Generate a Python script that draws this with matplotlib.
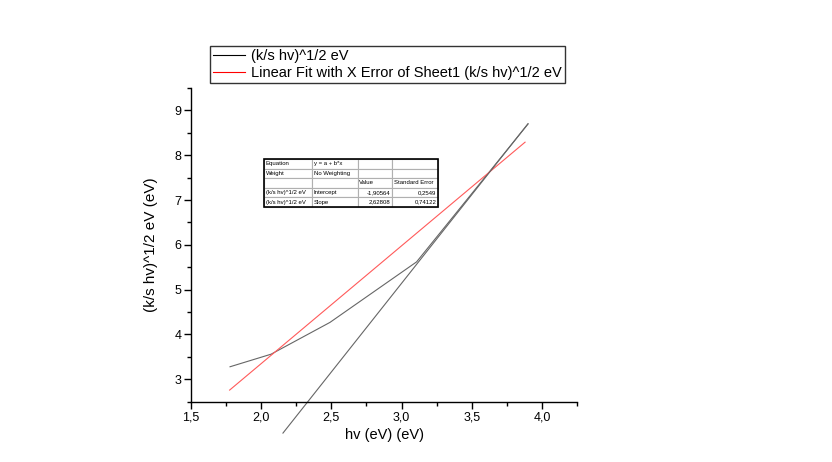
import numpy as np
import matplotlib
matplotlib.use("Agg")
import matplotlib.pyplot as plt
from matplotlib.ticker import MultipleLocator, FuncFormatter
from matplotlib.patches import Rectangle

plt.rcParams['font.family'] = ['Liberation Sans', 'DejaVu Sans']

# measured curve (k/s hv)^1/2 vs hv
hv = [1.778, 2.07, 2.49, 3.107, 3.902]
ks = [3.28, 3.56, 4.27, 5.62, 8.70]

# linear fit with X error, y = a + b*x
fit_a = -1.90564
fit_b = 2.62808
fit_x = [1.775, 3.88]

# tangent drawn by hand on the plot (extends below the axis)
tan_x = [2.155, 3.90]
tan_y = [1.80, 8.70]

table_rows = [
    ["Equation", "y = a + b*x", "", ""],
    ["Weight", "No Weighting", "", ""],
    ["", "", "Value", "Standard Error"],
    ["(k/s hv)^1/2 eV", "Intercept", "-1,90564", "0,2549"],
    ["(k/s hv)^1/2 eV", "Slope", "2,62808", "0,74122"],
]

fig = plt.figure(figsize=(8.32, 4.62), dpi=100)
ax = fig.add_axes([0.2296, 0.1305, 0.4639, 0.679])

line1, = ax.plot(hv, ks, color='#666666', lw=0.8, label="(k/s hv)^1/2 eV")
fx = np.array(fit_x)
line2, = ax.plot(fx, fit_a + fit_b * fx, color='#ff5a5a', lw=0.8,
                 label="Linear Fit with X Error of Sheet1 (k/s hv)^1/2 eV")
ax.plot(tan_x, tan_y, color='#666666', lw=0.8, clip_on=False)

ax.set_xlim(1.5, 4.25)
ax.set_ylim(2.5, 9.5)
ax.xaxis.set_major_locator(MultipleLocator(0.5))
ax.xaxis.set_minor_locator(MultipleLocator(0.25))
ax.yaxis.set_major_locator(MultipleLocator(1))
ax.yaxis.set_minor_locator(MultipleLocator(0.5))
ax.xaxis.set_major_formatter(FuncFormatter(lambda v, p: f"{v:.1f}".replace('.', ',')))
ax.yaxis.set_major_formatter(FuncFormatter(lambda v, p: f"{v:.0f}"))
ax.tick_params(which='major', direction='out', length=5, width=1, labelsize=9, pad=2)
ax.tick_params(which='minor', direction='out', length=3, width=1)
for s in ['top', 'right']:
    ax.spines[s].set_visible(False)
for s in ['left', 'bottom']:
    ax.spines[s].set_linewidth(1)

ax.set_xlabel("hv (eV) (eV)", fontsize=10.5, labelpad=3)
ax.set_ylabel("(k/s hv)^1/2 eV (eV)", fontsize=11, labelpad=12)

leg = fig.legend(handles=[line1, line2], loc='upper left',
                 bbox_to_anchor=(210 / 832, 1 - 46 / 462), fontsize=10.5,
                 frameon=True, fancybox=False, edgecolor='black',
                 handlelength=2.2, handletextpad=0.4, borderpad=0.2,
                 labelspacing=0.2, borderaxespad=0)
leg.get_frame().set_linewidth(1)
leg.legend_handles[0].set_color('black')
leg.legend_handles[1].set_color('red')

# results table
tb = [0.189, 0.6207, 0.451, 0.153]
widths = [48, 46, 34, 46]
tw = sum(widths)
tab = ax.table(cellText=table_rows, bbox=tb, cellLoc='left',
               colWidths=[w / tw for w in widths])
tab.auto_set_font_size(False)
for (r, c), cell in tab.get_celld().items():
    cell.set_edgecolor('#b0b0b0')
    cell.set_linewidth(0.8)
    cell.PAD = 0.04
    txt = cell.get_text()
    txt.set_fontsize(4.3)
    if r >= 3 and c >= 2:
        txt.set_ha('right')
    else:
        txt.set_ha('left')
ax.add_patch(Rectangle((tb[0], tb[1]), tb[2], tb[3], transform=ax.transAxes,
                       fill=False, edgecolor='black', lw=1.2, zorder=10))

fig.savefig("out.png", dpi=100)
